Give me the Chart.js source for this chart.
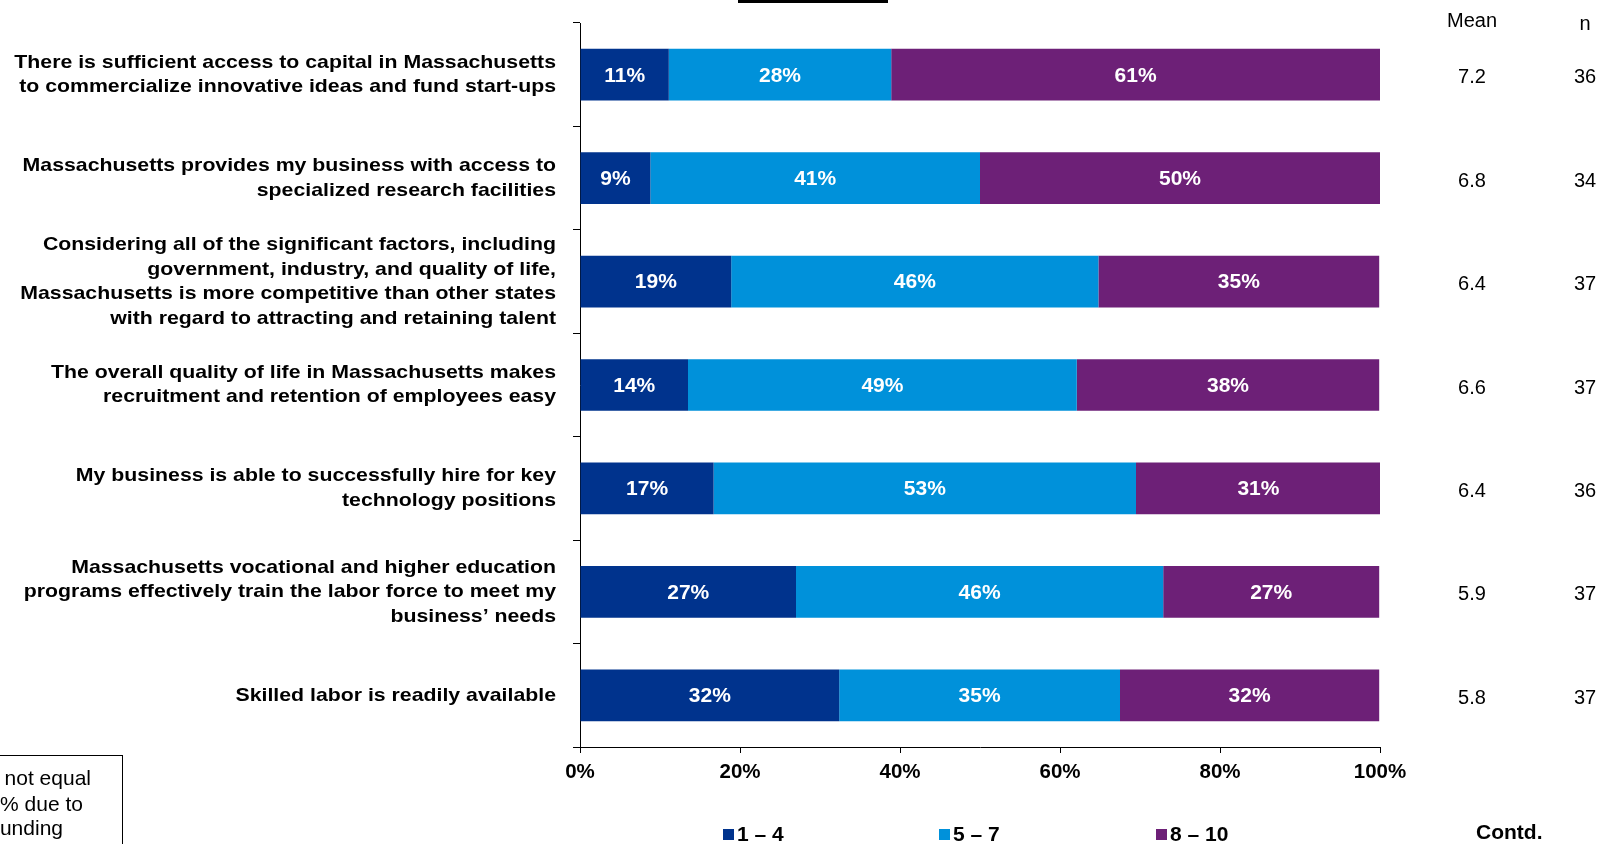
<!DOCTYPE html>
<html>
<head>
<meta charset="utf-8">
<script src="https://cdn.jsdelivr.net/npm/chart.js@4.4.0/dist/chart.umd.min.js"></script>
<style>
  html, body { margin: 0; padding: 0; background: #fff; overflow: hidden; }
  #wrap { position: relative; width: 1599px; height: 844px; overflow: hidden; }
  #chart { position: absolute; left: 0; top: 0; }
  .note-box { position: absolute; left: -20px; top: 755px; width: 141px; height: 120px; border: 1.5px solid #000; }
  .note { position: absolute; font: 21px "Liberation Sans", Arial, sans-serif; color: #000; white-space: nowrap; transform: translateX(-100%); }
  .title-cut { position: absolute; left: 738px; top: 0; width: 150px; height: 3px; background: #000; }
</style>
</head>
<body>
<div id="wrap">
  <canvas id="chart" width="1599" height="844"></canvas>
  <div class="title-cut"></div>
  <div class="note-box"></div>
  <div class="note" style="left:91px;top:766px">Totals may not equal</div>
  <div class="note" style="left:83px;top:792px">100% due to</div>
  <div class="note" style="left:63px;top:816px">rounding</div>
</div>
<script>
  // statements (y axis)
  const statements = [
    ['There is sufficient access to capital in Massachusetts', 'to commercialize innovative ideas and fund start-ups'],
    ['Massachusetts provides my business with access to', 'specialized research facilities'],
    ['Considering all of the significant factors, including', 'government, industry, and quality of life,', 'Massachusetts is more competitive than other states', 'with regard to attracting and retaining talent'],
    ['The overall quality of life in Massachusetts makes', 'recruitment and retention of employees easy'],
    ['My business is able to successfully hire for key', 'technology positions'],
    ['Massachusetts vocational and higher education', 'programs effectively train the labor force to meet my', 'business\u2019 needs'],
    ['Skilled labor is readily available']
  ];

  // share of ratings per band (%)
  const low = [11.1, 8.8, 18.9, 13.5, 16.7, 27.0, 32.4];
  const mid = [27.8, 41.2, 45.9, 48.6, 52.8, 45.9, 35.1];
  const high = [61.1, 50.0, 35.1, 37.8, 30.6, 27.0, 32.4];

  const means = ['7.2', '6.8', '6.4', '6.6', '6.4', '5.9', '5.8'];
  const counts = ['36', '34', '37', '37', '36', '37', '37'];

  const bandNames = ['1 \u2013 4', '5 \u2013 7', '8 \u2013 10'];
  const bandColors = ['#00338D', '#0091DA', '#6D2077'];

  const xTicks = [0, 20, 40, 60, 80, 100];

  const FONT = '"Liberation Sans", Arial, sans-serif';
  Chart.defaults.font.family = FONT;
  Chart.defaults.color = '#000';

  // white % labels inside the segments
  const segmentLabels = {
    id: 'segmentLabels',
    afterDatasetsDraw(chart) {
      const ctx = chart.ctx;
      ctx.save();
      ctx.fillStyle = '#fff';
      ctx.font = 'bold 21px ' + FONT;
      ctx.textAlign = 'center';
      ctx.textBaseline = 'middle';
      chart.data.datasets.forEach((ds, di) => {
        chart.getDatasetMeta(di).data.forEach((bar, i) => {
          ctx.fillText(Math.round(ds.data[i]) + '%', (bar.x + bar.base) / 2, bar.y + 1);
        });
      });
      ctx.restore();
    }
  };

  // statement labels, drawn a little wide like the original slide
  const statementLabels = {
    id: 'statementLabels',
    afterDraw(chart) {
      const ctx = chart.ctx;
      const y = chart.scales.y;
      ctx.save();
      ctx.font = 'bold 19px ' + FONT;
      ctx.fillStyle = '#000';
      ctx.textAlign = 'right';
      ctx.textBaseline = 'middle';
      chart.data.labels.forEach((lines, i) => {
        const cy = y.getPixelForValue(i);
        lines.forEach((line, k) => {
          ctx.save();
          ctx.translate(556, cy + (k - (lines.length - 1) / 2) * 24.5);
          ctx.scale(1.12, 1);
          ctx.fillText(line, 0, 0);
          ctx.restore();
        });
      });
      ctx.restore();
    }
  };

  // mean / n columns, legend and "Contd."
  const extras = {
    id: 'extras',
    afterDraw(chart) {
      const ctx = chart.ctx;
      const y = chart.scales.y;
      ctx.save();
      ctx.fillStyle = '#000';
      ctx.textBaseline = 'middle';
      ctx.textAlign = 'center';
      ctx.font = '20px ' + FONT;
      ctx.fillText('Mean', 1472, 21);
      ctx.fillText('n', 1585, 24);
      means.forEach((m, i) => {
        const py = y.getPixelForValue(i);
        ctx.fillText(m, 1472, py + 3);
        ctx.fillText(counts[i], 1585, py + 3);
      });

      ctx.textAlign = 'left';
      ctx.font = 'bold 21px ' + FONT;
      const legendX = [723, 939, 1156];
      bandNames.forEach((name, i) => {
        ctx.fillStyle = bandColors[i];
        ctx.fillRect(legendX[i], 829, 11, 11);
        ctx.fillStyle = '#000';
        ctx.fillText(name, legendX[i] + 14, 835);
      });
      ctx.fillText('Contd.', 1476, 833);
      ctx.restore();
    }
  };

  const datasets = [low, mid, high].map((vals, i) => ({
    label: bandNames[i],
    data: vals,
    backgroundColor: bandColors[i],
    borderWidth: 0,
    barPercentage: 0.5,
    categoryPercentage: 1
  }));

  new Chart(document.getElementById('chart'), {
    type: 'bar',
    data: { labels: statements, datasets: datasets },
    options: {
      indexAxis: 'y',
      responsive: false,
      animation: false,
      layout: { padding: { top: 23, right: 219, left: 0, bottom: 0 } },
      plugins: {
        legend: { display: false },
        tooltip: { enabled: false }
      },
      scales: {
        x: {
          stacked: true,
          min: 0,
          max: 100,
          afterFit: s => { s.height = 97; },
          afterBuildTicks: s => { s.ticks = xTicks.map(v => ({ value: v })); },
          grid: { drawOnChartArea: false, drawTicks: true, tickLength: 6, color: '#000' },
          border: { display: true, color: '#000', width: 1 },
          ticks: {
            padding: 7,
            maxRotation: 0,
            font: { size: 20.5, weight: 'bold' },
            callback: v => v + '%'
          }
        },
        y: {
          stacked: true,
          afterFit: s => { s.width = 580; },
          grid: { drawOnChartArea: false, drawTicks: true, tickLength: 7, color: '#000', offset: true },
          border: { display: true, color: '#000', width: 1 },
          ticks: { display: false }
        }
      }
    },
    plugins: [segmentLabels, statementLabels, extras]
  });
</script>
</body>
</html>
